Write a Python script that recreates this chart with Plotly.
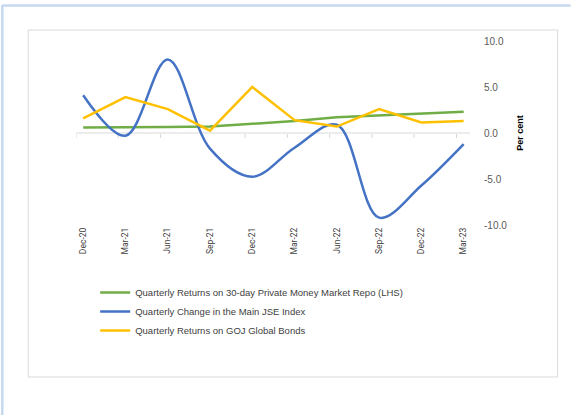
import plotly.graph_objects as go

categories = ["Dec-20", "Mar-21", "Jun-21", "Sep-21", "Dec-21", "Mar-22", "Jun-22", "Sep-22", "Dec-22", "Mar-23"]
repo_returns = [0.6, 0.6, 0.65, 0.7, 1.0, 1.3, 1.7, 1.9, 2.1, 2.3]
jse_change = [4.1, -0.3, 8.0, -1.7, -4.75, -1.6, 0.9, -9.2, -5.7, -1.2]
goj_bonds = [1.6, 3.9, 2.6, 0.25, 5.0, 1.4, 0.7, 2.6, 1.15, 1.3]
y_ticks = [-10, -5, 0, 5, 10]

names = [
    "Quarterly Returns on 30-day Private Money Market Repo (LHS)",
    "Quarterly Change in the Main JSE Index",
    "Quarterly Returns on GOJ Global Bonds",
]

W, H = 571, 415
# plot area in pixels
PL, PR, PT, PB = 75.8, 470.3, 41, 225
XR = [-0.17, 9.15]
YR = [-10, 10]

def px_x(p):
    return (p - PL) / (PR - PL)

def px_y(p):
    return (PB - p) / (PB - PT)

x = list(range(len(categories)))

fig = go.Figure()
fig.add_trace(go.Scatter(x=x, y=repo_returns, name=names[0], mode="lines",
                         line=dict(color="#70AD47", width=2.5)))
fig.add_trace(go.Scatter(x=x, y=jse_change, name=names[1], mode="lines",
                         line=dict(color="#4472C4", width=2.5, shape="spline", smoothing=1.0)))
fig.add_trace(go.Scatter(x=x, y=goj_bonds, name=names[2], mode="lines",
                         line=dict(color="#FFC000", width=2.5)))

shapes = []
# zero axis line
shapes.append(dict(type="line", xref="paper", yref="y", x0=0, x1=1, y0=0, y1=0,
                   line=dict(color="#d9d9d9", width=1), layer="below"))
# small tick marks on the zero line
for i in range(len(categories)):
    shapes.append(dict(type="line", xref="x", yref="paper", x0=i - 0.17, x1=i - 0.17,
                       y0=px_y(134), y1=px_y(138), line=dict(color="#d9d9d9", width=1), layer="below"))
# inner chart border
shapes.append(dict(type="rect", xref="paper", yref="paper",
                   x0=px_x(28), x1=px_x(558), y0=px_y(377), y1=px_y(30),
                   line=dict(color="#d9d9d9", width=1), layer="below"))
# outer light-blue frame
shapes.append(dict(type="line", xref="paper", yref="paper",
                   x0=px_x(2), x1=px_x(2), y0=px_y(415), y1=px_y(5),
                   line=dict(color="#c6d9f1", width=2.5)))
shapes.append(dict(type="line", xref="paper", yref="paper",
                   x0=px_x(2), x1=px_x(571), y0=px_y(5.5), y1=px_y(5.5),
                   line=dict(color="#c6d9f1", width=2.5)))

fig.update_layout(
    width=W, height=H,
    margin=dict(l=PL, r=W - PR, t=PT, b=H - PB),
    paper_bgcolor="white", plot_bgcolor="white",
    showlegend=True,
    legend=dict(x=px_x(95), y=px_y(278), xanchor="left", yanchor="top",
                font=dict(family="Liberation Sans", size=9.5, color="#404040"),
                bgcolor="rgba(0,0,0,0)", tracegroupgap=0, itemwidth=30),
    shapes=shapes,
    xaxis=dict(range=XR, tickmode="array", tickvals=x, ticktext=categories,
               tickangle=-90, showgrid=False, zeroline=False, showline=False, ticks="",
               tickfont=dict(family="Roboto", size=8.5, color="#404040")),
    yaxis=dict(range=YR, side="right", tickmode="array", tickvals=y_ticks,
               ticktext=[f"{v:.1f}" for v in y_ticks], showgrid=False, zeroline=False,
               showline=False, ticks="", ticklabelstandoff=13,
               tickfont=dict(family="Liberation Sans", size=10, color="#595959"),
               title=dict(text="<b>Per cent</b>", standoff=10,
                          font=dict(family="Liberation Sans", size=9, color="#000000"))),
)

fig.write_html("out.html", config={"displayModeBar": False},
               post_script="document.body.style.margin='0';")
